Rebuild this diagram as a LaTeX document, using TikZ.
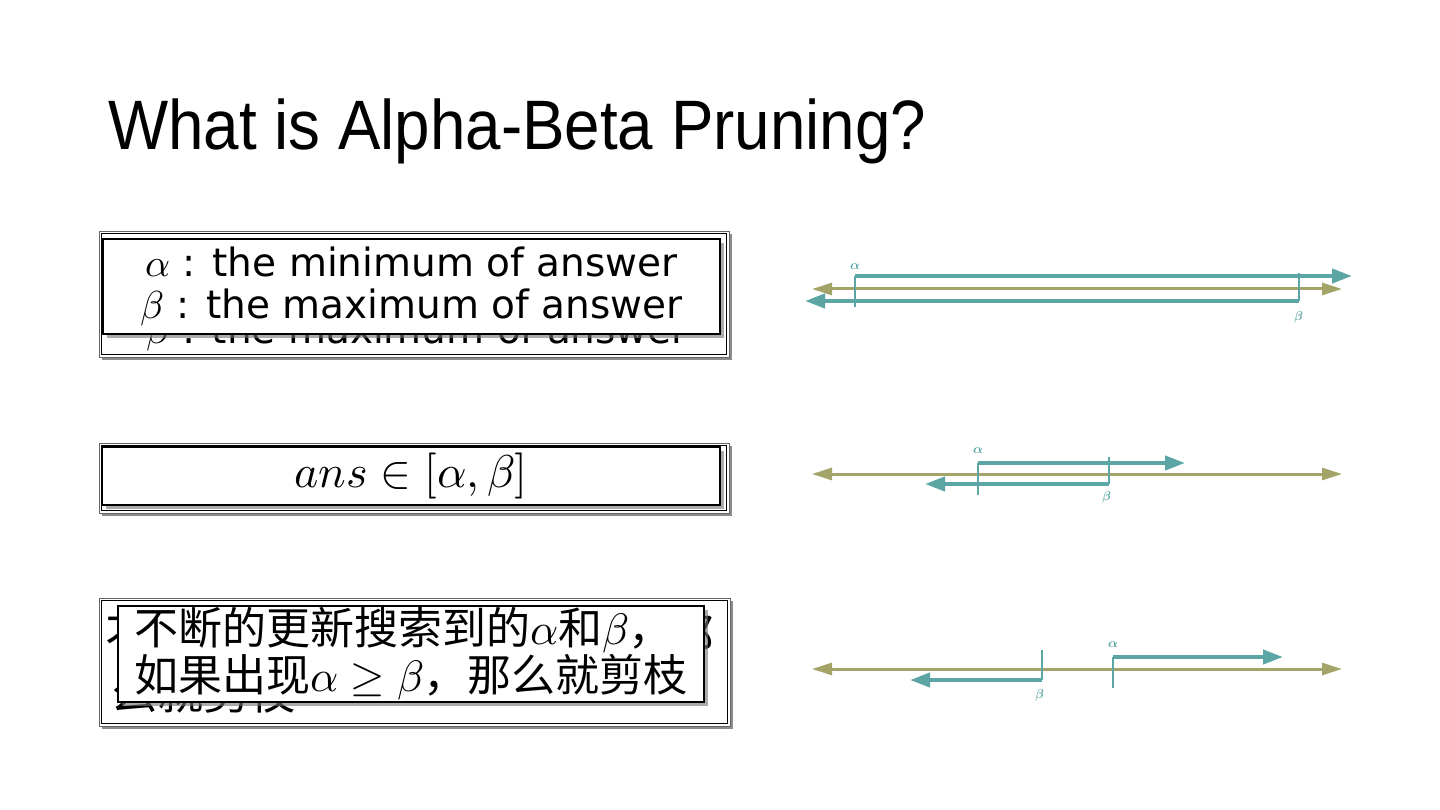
\documentclass[tikz,border=0pt]{standalone}
\usepackage{fontspec}
\usepackage{unicode-math}
\setmathfont{Latin Modern Math}
\usetikzlibrary{arrows.meta,shadows}
\newfontfamily\titlefont[FakeStretch=0.91]{Liberation Sans}
\newfontfamily\boxfont{DejaVu Sans}
\newfontfamily\cjk{Noto Sans CJK SC}
\definecolor{boundteal}{RGB}{91,166,164}
\definecolor{axisolive}{RGB}{165,164,104}
\tikzset{
	outerframe/.style={draw=black!60, line width=0.7pt, fill=white, inner sep=0pt,
		drop shadow={shadow xshift=3pt, shadow yshift=-3pt, fill=black!45, opacity=1}},
	framerule/.style={draw=black, line width=1pt},
	textbox/.style={draw=black, line width=1.3pt, fill=white, inner sep=0pt,
		drop shadow={shadow xshift=4pt, shadow yshift=-4pt, fill=black!55, opacity=0.6}},
	ghost/.style={inner sep=0pt, anchor=base west},
	axisline/.style={draw=axisolive, line width=3pt, {Triangle[length=20pt,width=12pt]}-{Triangle[length=20pt,width=12pt]}},
	boundarrow/.style={draw=boundteal, line width=4pt, -{Triangle[length=20pt,width=14pt]}},
	boundtick/.style={draw=boundteal, line width=2pt},
	boundlabel/.style={text=boundteal, inner sep=0pt, font=\fontsize{13}{13}\selectfont}
}
\begin{document}
\begin{tikzpicture}[x=1pt,y=-1pt]
	\useasboundingbox[fill=white] (0,0) rectangle (1440,810);
	% title
	\node[anchor=base west, inner sep=0pt, font=\titlefont\fontsize{70}{80}\selectfont] (title) at (108,150) {What is Alpha-Beta Pruning?};

	% box 1: bounds
	\node[outerframe, minimum width=630, minimum height=126] (frameA) at (414,294) {};
	\draw[framerule] ([shift={(2.5,2.5)}]frameA.north west) rectangle ([shift={(-2.5,-2.5)}]frameA.south east);
	\node[ghost, font=\boxfont\fontsize{39}{42}\selectfont] (ghostA) at (146,343) {$\beta$ : the maximum of answer};
	\node[textbox, minimum width=617, minimum height=95, align=center, font=\boxfont\fontsize{39}{42}\selectfont] (boxA) at (411.5,286.5)
		{$\alpha$ : the minimum of answer\\$\beta$ : the maximum of answer};

	% box 2: answer range
	\node[outerframe, minimum width=630, minimum height=70] (frameB) at (414,478) {};
	\draw[framerule] ([shift={(2.5,2.5)}]frameB.north west) rectangle ([shift={(-2.5,-2.5)}]frameB.south east);
	\node[textbox, minimum width=618, minimum height=58, font=\fontsize{46}{48}\selectfont] (boxB) at (411,476) {$ans \in [\alpha,\beta]$};

	% box 3: pruning rule
	\node[outerframe, minimum width=631, minimum height=128] (frameC) at (414.5,662) {};
	\draw[framerule] ([shift={(2.5,2.5)}]frameC.north west) rectangle ([shift={(-2.5,-2.5)}]frameC.south east);
	\node[ghost, font=\cjk\fontsize{46}{50}\selectfont] (ghostC1) at (105,652) {不断的更新搜索到的$\alpha$和$\beta$，那};
	\node[ghost, font=\cjk\fontsize{46}{50}\selectfont] (ghostC2) at (111,709) {么就剪枝};
	\node[textbox, minimum width=586, minimum height=96, align=left, font=\cjk\fontsize{44}{44}\selectfont] (boxC) at (411,654)
		{不断的更新搜索到的$\alpha$和$\beta$，\\如果出现$\alpha \geq \beta$，那么就剪枝};

	% line 1: alpha far left, beta far right
	\coordinate (axisAw) at (812,289);
	\coordinate (axisAe) at (1342,289);
	\draw[axisline] (axisAw) -- (axisAe);
	\coordinate (alphaAtop) at (855,276);
	\coordinate (alphaAbot) at (855,307);
	\coordinate (alphaAtip) at (1352,276);
	\coordinate (betaAtop) at (1299,273);
	\coordinate (betaAbot) at (1299,301);
	\coordinate (betaAtip) at (805,301);
	\draw[boundarrow] (alphaAtop) -- (alphaAtip);
	\draw[boundarrow] (betaAbot) -- (betaAtip);
	\draw[boundtick] (alphaAtop) -- (alphaAbot);
	\draw[boundtick] (betaAtop) -- (betaAbot);
	\node[boundlabel] (alphaA) at (855,267) {$\symbfit{\alpha}$};
	\node[boundlabel] (betaA) at (1299,317) {$\symbfit{\beta}$};

	% line 2: alpha < beta
	\coordinate (axisBw) at (812,474);
	\coordinate (axisBe) at (1342,474);
	\draw[axisline] (axisBw) -- (axisBe);
	\coordinate (alphaBtop) at (978,463);
	\coordinate (alphaBbot) at (978,495);
	\coordinate (alphaBtip) at (1185,463);
	\coordinate (betaBtop) at (1109,457);
	\coordinate (betaBbot) at (1109,484);
	\coordinate (betaBtip) at (925,484);
	\draw[boundarrow] (alphaBtop) -- (alphaBtip);
	\draw[boundarrow] (betaBbot) -- (betaBtip);
	\draw[boundtick] (alphaBtop) -- (alphaBbot);
	\draw[boundtick] (betaBtop) -- (betaBbot);
	\node[boundlabel] (alphaB) at (978,451) {$\symbfit{\alpha}$};
	\node[boundlabel] (betaB) at (1107,497) {$\symbfit{\beta}$};

	% line 3: alpha >= beta, prune
	\coordinate (axisCw) at (812,669);
	\coordinate (axisCe) at (1342,669);
	\draw[axisline] (axisCw) -- (axisCe);
	\coordinate (betaCtop) at (1042,650);
	\coordinate (betaCbot) at (1042,680);
	\coordinate (betaCtip) at (910,680);
	\coordinate (alphaCtop) at (1113,657);
	\coordinate (alphaCbot) at (1113,688);
	\coordinate (alphaCtip) at (1283,657);
	\draw[boundarrow] (alphaCtop) -- (alphaCtip);
	\draw[boundarrow] (betaCbot) -- (betaCtip);
	\draw[boundtick] (alphaCtop) -- (alphaCbot);
	\draw[boundtick] (betaCtop) -- (betaCbot);
	\node[boundlabel] (alphaC) at (1113,645) {$\symbfit{\alpha}$};
	\node[boundlabel] (betaC) at (1040,695) {$\symbfit{\beta}$};
\end{tikzpicture}
\end{document}
